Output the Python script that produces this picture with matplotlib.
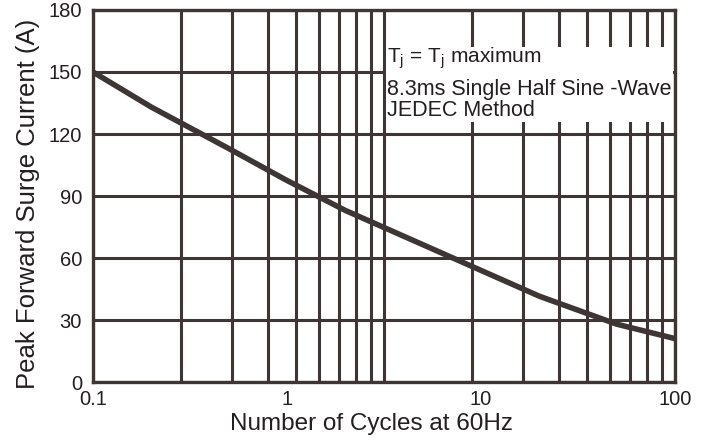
import matplotlib
matplotlib.use("Agg")
import matplotlib.pyplot as plt
from matplotlib.patches import Rectangle
from matplotlib.ticker import LogLocator, NullFormatter, FixedLocator, FixedFormatter

plt.rcParams['font.family'] = ['Liberation Sans', 'DejaVu Sans']
plt.rcParams['mathtext.fontset'] = 'custom'
plt.rcParams['mathtext.rm'] = 'Liberation Sans'
plt.rcParams['mathtext.it'] = 'Liberation Sans:italic'

# Data
cycles = [0.1, 0.2, 0.5, 1, 2, 5, 10, 20, 50, 100]
current = [150, 133, 113, 97.5, 83, 66.5, 54, 41.5, 28, 21]
x_ticks = [0.1, 1, 10, 100]
x_tick_labels = ["0.1", "1", "10", "100"]
y_ticks = [0, 30, 60, 90, 120, 150, 180]

LINE = '#3d3634'
TEXT = '#231f20'

fig = plt.figure(figsize=(7.08, 4.46), dpi=100)
left, right, top, bottom = 93/708, 675/708, 1 - 10/446, 1 - 382/446
ax = fig.add_axes([left, bottom, right - left, top - bottom])

# Background grid axes (two-decade log grid as in the reference)
ax2 = ax.twiny()
ax2.set_xscale('log')
ax2.set_xlim(1, 100)
ax2.xaxis.set_major_locator(LogLocator(base=10))
ax2.xaxis.set_minor_locator(LogLocator(base=10, subs=range(2, 10)))
ax2.xaxis.set_major_formatter(NullFormatter())
ax2.xaxis.set_minor_formatter(NullFormatter())
ax2.tick_params(which='both', length=0, labeltop=False)
ax2.grid(True, which='both', axis='x', color=LINE, linewidth=2.2)
for s in ax2.spines.values():
    s.set_visible(False)
ax2.set_zorder(0)
ax.set_zorder(1)
ax.patch.set_visible(False)

ax.set_xscale('log')
ax.set_xlim(0.1, 100)
ax.set_ylim(0, 180)
ax.xaxis.set_major_locator(FixedLocator(x_ticks))
ax.xaxis.set_major_formatter(FixedFormatter(x_tick_labels))
ax.xaxis.set_minor_locator(FixedLocator([]))
ax.set_yticks(y_ticks)
ax.set_axisbelow(True)
ax.grid(True, axis='y', color=LINE, linewidth=2.2)
ax.tick_params(axis='both', length=0, labelsize=14.5, colors=TEXT)
ax.tick_params(axis='y', pad=8)
ax.tick_params(axis='x', pad=6)
for s in ax.spines.values():
    s.set_color(LINE)
    s.set_linewidth(2.4)

ax.plot(cycles, current, color=LINE, linewidth=4.0, zorder=3, solid_capstyle='butt')

# White annotation box
x0 = (386 - 93) / 582
x1 = (673 - 93) / 582
y0 = (382 - 122) / 372
y1 = (382 - 47) / 372
ax.add_patch(Rectangle((x0, y0), x1 - x0, y1 - y0, transform=ax.transAxes,
                       facecolor='white', edgecolor='none', zorder=2))
ax.text(x0 + 0.001, (382 - 58) / 372, r"T$_\mathregular{j}$ = T$_\mathregular{j}$ maximum",
        transform=ax.transAxes, ha='left', va='center', fontsize=15, color=TEXT, zorder=4)
ax.text(x0 + 0.001, (382 - 90) / 372, "8.3ms Single Half Sine -Wave",
        transform=ax.transAxes, ha='left', va='center', fontsize=15.5, color=TEXT, zorder=4)
ax.text(x0 + 0.001, (382 - 110) / 372, "JEDEC Method",
        transform=ax.transAxes, ha='left', va='center', fontsize=15.5, color=TEXT, zorder=4)

ax.set_xlabel("Number of Cycles at 60Hz", fontsize=17.5, color=TEXT)
ax.set_ylabel("Peak Forward Surge Current (A)", fontsize=18.5, color=TEXT)
ax.xaxis.set_label_coords((372 - 93) / 582, (382 - 413) / 372)
ax.yaxis.set_label_coords((40 - 93) / 582, (382 - 204) / 372)

fig.savefig("out.png", dpi=100)
